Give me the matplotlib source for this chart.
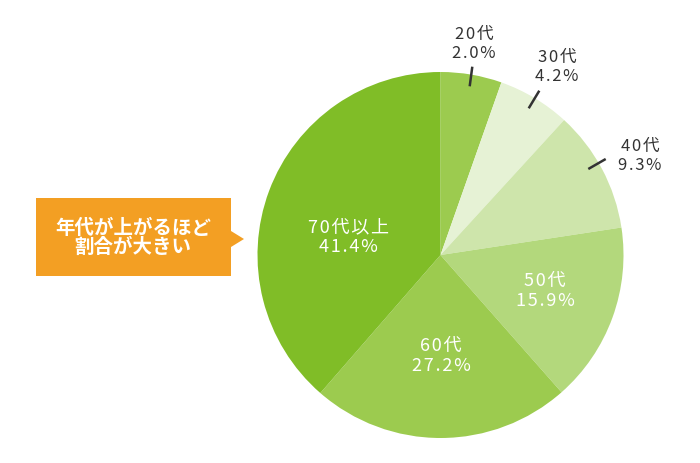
import matplotlib.pyplot as plt
from matplotlib.patches import Polygon

plt.rcParams['font.family'] = ['Noto Sans CJK JP', 'DejaVu Sans']

# age groups, clockwise from 12 o'clock
ages = ['20代', '30代', '40代', '50代', '60代', '70代以上']
pct_text = [2.0, 4.2, 9.3, 15.9, 27.2, 41.4]
# slice sizes as actually drawn in the picture (%)
drawn = [5.4, 6.4, 10.8, 15.9, 22.9, 38.6]
colors = ['#9ccb4f', '#e6f2d5', '#cee5ab', '#b3d87c', '#9ccb4f', '#80bd27']

W, H = 700, 464
fig = plt.figure(figsize=(W / 100, H / 100), dpi=100)
ax = fig.add_axes([0, 0, 1, 1])

cx, cy, r = 440.5, H - 256, 183
ax.pie(drawn, colors=colors, startangle=90, counterclock=False,
       center=(cx, cy), radius=r, wedgeprops=dict(linewidth=0))

ax.set_xlim(0, W)
ax.set_ylim(0, H)
ax.set_aspect('equal')
ax.axis('off')


def spaced(s, gap='\u200a'):
    # the original lettering is tracked out a bit
    return gap.join(s)


def lbl(i):
    return spaced(ages[i]) + '\n' + spaced(f'{pct_text[i]:.1f}%')


# outside labels with short leader ticks (pixel coords, y from top)
outside = {0: ((474, 44), (472.3, 67.7), (469.7, 87.3)),
           1: ((557, 67), (539.3, 91.7), (528.7, 109.3)),
           2: ((640, 156), (605.7, 160), (588.3, 170))}
for i, ((tx, ty), (x0, y0), (x1, y1)) in outside.items():
    ax.text(tx, H - ty, lbl(i), ha='center', va='center', fontsize=12,
            color='#333333', linespacing=1.15)
    ax.plot([x0, x1], [H - y0, H - y1], color='#333333', lw=1.8,
            solid_capstyle='butt')

# inside labels
inside = {3: (545, 291), 4: (441, 356), 5: (348, 237)}
for i, (tx, ty) in inside.items():
    ax.text(tx, H - ty, lbl(i), ha='center', va='center',
            fontsize=13, color='white', linespacing=1.1)

# callout box with pointer
box = [(36, 199), (231, 199), (231, 232), (244, 240), (231, 248),
       (231, 277), (36, 277)]
ax.add_patch(Polygon([(x, H - y) for x, y in box], closed=True,
                     facecolor='#f39f23', edgecolor='none'))
ax.text(133, H - 238, '年代が上がるほど\n割合が大きい', ha='center', va='center',
        fontsize=14, color='white', fontweight='bold', linespacing=1.0)

fig.savefig('out.png', dpi=100)
